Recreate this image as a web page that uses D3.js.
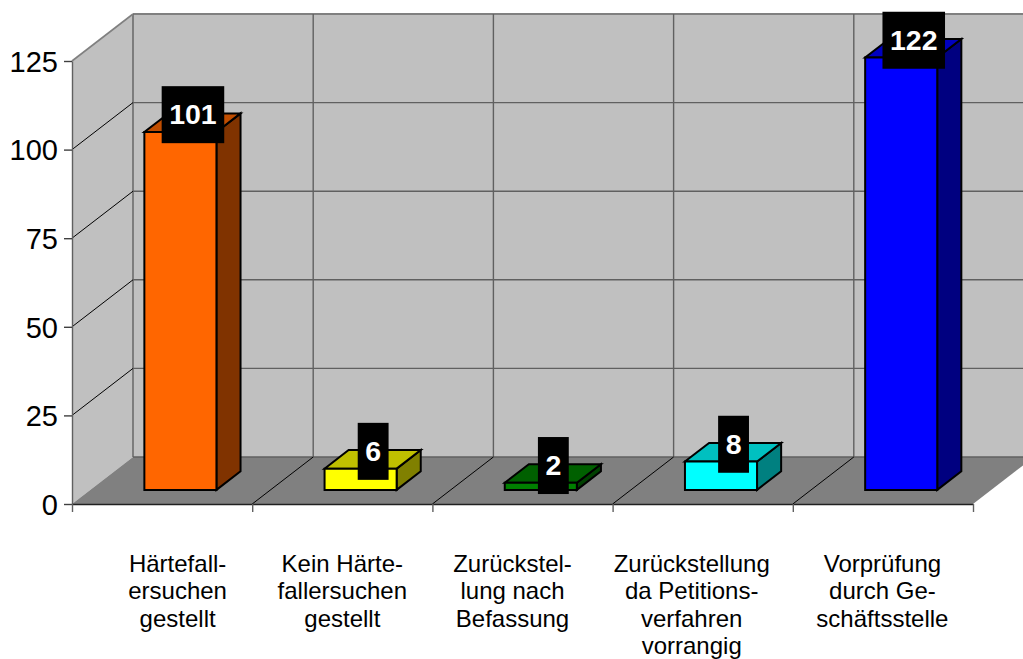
<!DOCTYPE html>
<html>
<head>
<meta charset="utf-8">
<script src="https://cdn.jsdelivr.net/npm/d3@7"></script>
<style>
  html, body { margin: 0; padding: 0; background: #fff; }
  svg { display: block; font-family: "Liberation Sans", Arial, sans-serif; }
</style>
</head>
<body>
<div id="plot"></div>
<script>
// data
const categories = ['Härtefallersuchen gestellt', 'Kein Härtefallersuchen gestellt', 'Zurückstellung nach Befassung', 'Zurückstellung da Petitionsverfahren vorrangig', 'Vorprüfung durch Geschäftsstelle']
const values = [101, 6, 2, 8, 122]
const yTicks = [0, 25, 50, 75, 100, 125]
const labelLines = [
    ['Härtefall-', 'ersuchen', 'gestellt'],
    ['Kein Härte-', 'fallersuchen', 'gestellt'],
    ['Zurückstel-', 'lung nach', 'Befassung'],
    ['Zurückstellung', 'da Petitions-', 'verfahren', 'vorrangig'],
    ['Vorprüfung', 'durch Ge-', 'schäftsstelle']
]

// colours of front, top and side of each bar
const frontColors = ['#ff6600', '#ffff00', '#008000', '#00ffff', '#0000ff']
const topColors = ['#c04d00', '#c0c000', '#006000', '#00c0c0', '#0000c0']
const sideColors = ['#803300', '#808000', '#004000', '#008080', '#000080']

// the category labels are not centred on their bands in the original
const labelShift = [15.5, 0, -10, -11, -0.5]

const width = 1023
const height = 659
const depthX = 61
const depthY = -47
const barFrontDepth = 0.3
const barBackDepth = 0.695

const svg = d3.select('#plot').append('svg')
    .attr('width', width)
    .attr('height', height)

const x = d3.scaleBand().domain(categories).range([72, 973])
const xBar = d3.scaleBand().domain(categories).range([72, 973]).paddingInner(0.6).paddingOuter(0.3)
const xEdges = d3.scaleLinear().domain([0, categories.length]).range([72, 973])
const y = d3.scaleLinear().domain([0, 125]).range([504, 61])

// project a plot position and a depth (0 front, 1 back) to the screen
const px = (xv, t) => xv + depthX * t
const py = (v, t) => y(v) + depthY * t
const pt = (xv, v, t) => [px(xv, t), py(v, t)]
const poly = pts => pts.map(p => p.join(',')).join(' ')

// walls and floor
const maxV = y.domain()[1]
const xEnd = x.range()[1]
const xStart = x.range()[0]
svg.append('polygon')
    .attr('points', poly([pt(xStart, 0, 1), pt(xEnd, 0, 1), pt(xEnd, maxV, 1), pt(xStart, maxV, 1)]))
    .attr('fill', '#c0c0c0')
svg.append('polygon')
    .attr('points', poly([pt(xStart, 0, 0), pt(xStart, 0, 1), pt(xStart, maxV, 1), pt(xStart, maxV, 0)]))
    .attr('fill', '#c0c0c0')
svg.append('polygon')
    .attr('points', poly([pt(xStart, 0, 0), pt(xEnd, 0, 0), pt(xEnd, 0, 1), pt(xStart, 0, 1)]))
    .attr('fill', '#808080')

// back wall grid
svg.selectAll('line.hgrid').data(yTicks).enter().append('line')
    .attr('x1', px(xStart, 1)).attr('x2', px(xEnd, 1))
    .attr('y1', d => py(d, 1)).attr('y2', d => py(d, 1))
    .attr('stroke', d => d === maxV ? '#808080' : '#606060')
    .attr('stroke-width', d => d === maxV ? 2 : 1.4)
svg.selectAll('line.vgrid').data(d3.range(categories.length + 1)).enter().append('line')
    .attr('x1', d => px(xEdges(d), 1)).attr('x2', d => px(xEdges(d), 1))
    .attr('y1', py(0, 1)).attr('y2', py(maxV, 1))
    .attr('stroke', '#606060')
    .attr('stroke-width', 1.4)

// side wall grid
svg.selectAll('line.side').data(yTicks.slice(1)).enter().append('line')
    .attr('x1', px(xStart, 0)).attr('x2', px(xStart, 1))
    .attr('y1', d => py(d, 0)).attr('y2', d => py(d, 1))
    .attr('stroke', d => d === maxV ? '#808080' : '#000')
    .attr('stroke-width', d => d === maxV ? 1.6 : 1)

// floor grid
svg.selectAll('line.floor').data(d3.range(1, categories.length)).enter().append('line')
    .attr('x1', d => px(xEdges(d), 0)).attr('x2', d => px(xEdges(d), 1))
    .attr('y1', py(0, 0)).attr('y2', py(0, 1))
    .attr('stroke', '#000')
    .attr('stroke-width', 1)

// axes
const yAxis = svg.append('g')
    .attr('transform', 'translate(' + xStart + ',0)')
    .call(d3.axisLeft(y).tickValues(yTicks).tickSize(8).tickPadding(6).tickSizeOuter(0))
yAxis.selectAll('text').attr('font-size', 29).attr('font-family', 'inherit').attr('fill', '#000').attr('dy', '0.355em')
yAxis.selectAll('line').attr('stroke', '#404040').attr('stroke-width', 1.4)
yAxis.select('.domain').attr('stroke', '#606060').attr('stroke-width', 1.4)

const xAxis = svg.append('g')
    .attr('transform', 'translate(0,' + y(0) + ')')
    .call(d3.axisBottom(xEdges).ticks(categories.length).tickSize(8).tickSizeOuter(0).tickFormat(''))
xAxis.selectAll('line').attr('stroke', '#606060').attr('stroke-width', 1.4)
xAxis.select('.domain').attr('stroke', '#202020').attr('stroke-width', 1.4)

// bars
const bars = svg.selectAll('g.bar').data(categories).enter().append('g').attr('class', 'bar')
const bw = xBar.bandwidth()
const t0 = barFrontDepth
const t1 = barBackDepth
const barStyle = sel => sel.attr('stroke', '#000').attr('stroke-width', 2).attr('stroke-linejoin', 'miter')

bars.append('polygon').call(barStyle)
    .attr('fill', (d, i) => sideColors[i])
    .attr('points', (d, i) => poly([
        pt(xBar(d) + bw, 0, t0), pt(xBar(d) + bw, 0, t1),
        pt(xBar(d) + bw, values[i], t1), pt(xBar(d) + bw, values[i], t0)]))
bars.append('polygon').call(barStyle)
    .attr('fill', (d, i) => topColors[i])
    .attr('points', (d, i) => poly([
        pt(xBar(d), values[i], t0), pt(xBar(d) + bw, values[i], t0),
        pt(xBar(d) + bw, values[i], t1), pt(xBar(d), values[i], t1)]))
bars.append('polygon').call(barStyle)
    .attr('fill', (d, i) => frontColors[i])
    .attr('points', (d, i) => poly([
        pt(xBar(d), 0, t0), pt(xBar(d) + bw, 0, t0),
        pt(xBar(d) + bw, values[i], t0), pt(xBar(d), values[i], t0)]))

// value labels, black boxes centred over the top face
const tMid = (t0 + t1) / 2
const valueLabels = svg.selectAll('g.value').data(categories).enter().append('g')
    .attr('class', 'value')
    .attr('transform', (d, i) => 'translate(' + (px(xBar(d) + bw / 2, tMid) + 0.5) + ',' + (py(values[i], tMid) - 8) + ')')
const valueBoxes = valueLabels.append('rect')
    .attr('fill', '#000')
    .attr('y', -28.5)
    .attr('height', 57)
valueLabels.append('text')
    .text((d, i) => values[i])
    .attr('text-anchor', 'middle')
    .attr('dy', 9.5)
    .attr('font-size', 28.5)
    .attr('font-weight', 'bold')
    .attr('fill', '#fff')
    .each(function (d, i) {
        const w = this.getComputedTextLength() + 15
        d3.select(valueBoxes.nodes()[i]).attr('x', -w / 2).attr('width', w)
    })

// category labels
const catLabels = svg.selectAll('text.cat').data(categories).enter().append('text')
    .attr('class', 'cat')
    .attr('text-anchor', 'middle')
    .attr('font-size', 24)
    .attr('fill', '#000')
    .attr('transform', (d, i) => 'translate(' + (x(d) + x.bandwidth() / 2 + labelShift[i]) + ',571.5)')
catLabels.selectAll('tspan').data((d, i) => labelLines[i]).enter().append('tspan')
    .attr('x', 0)
    .attr('y', (d, i) => i * 27.5)
    .text(d => d)
</script>
</body>
</html>
